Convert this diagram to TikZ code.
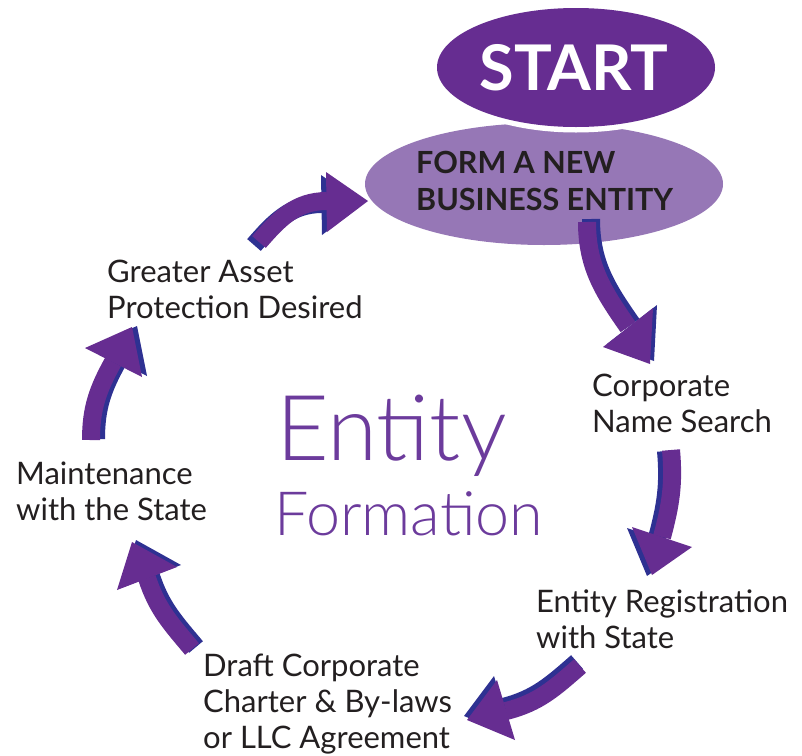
\documentclass[tikz,border=0pt]{standalone}
\usepackage{fontspec}
\setmainfont{Lato}
\newfontfamily\latolight{Lato Light}
\usetikzlibrary{calc}
\definecolor{dpurple}{HTML}{662D91}
\definecolor{lpurple}{HTML}{9677B6}
\definecolor{sblue}{HTML}{2E3192}
\definecolor{txt}{HTML}{231F20}
\definecolor{bigtxt}{HTML}{6C3B9C}
% #1 tail, #2 out, #3 in, #4 join, #5 head corner, #6 tip, #7 head corner, #8 shadow shift
\newcommand\fatarrow[8]{%
  \fill[sblue] ([shift={#8}]#5) -- ([shift={#8}]#6) -- ([shift={#8}]#7) -- cycle;
  \draw[sblue,line width=18pt] ([shift={#8}]#1) to[out=#2,in=#3] ([shift={#8}]#4);
  \draw[dpurple,line width=18pt] (#1) to[out=#2,in=#3] (#4);
  \fill[dpurple] (#5) -- (#6) -- (#7) -- cycle;
}
\tikzset{
  lbl/.style={anchor=base west,inner sep=0pt,align=left,text=txt,font=\fontsize{31}{36}\selectfont},
}
\begin{document}
\begin{tikzpicture}[x=1pt,y=-1pt]
\useasboundingbox (0,0) rectangle (802,755);
% ellipses
\fill[lpurple] (544,184) ellipse [x radius=179,y radius=61];
\fill[white] (576,67.5) ellipse [x radius=144,y radius=65];
\fill[dpurple] (576,67.5) ellipse [x radius=139,y radius=59.5];
\node (start) [anchor=base,inner sep=0pt,text=white,font=\fontsize{63}{70}\selectfont\bfseries] at (574,90) {START};
\node (form) [lbl,font=\fontsize{30.5}{37}\selectfont\bfseries] at (416,210) {FORM A NEW\\BUSINESS ENTITY};
% labels (base = last line)
\node (greater) [lbl] at (107,318) {Greater Asset\\Protection Desired};
\node (corp) [lbl] at (592,432) {Corporate\\Name Search};
\node (maint) [lbl] at (16,520) {Maintenance\\with the State};
\node (reg) [lbl] at (536,648) {Entity Registration\\with State};
\node (draft) [lbl] at (203,748) {Draft Corporate\\Charter \& By-laws\\or LLC Agreement};
% title
\node (entity) [anchor=base west,inner sep=0pt,text=bigtxt,font=\fontsize{91}{100}\latolight] at (276,460) {Entity};
\node (formation) [anchor=base west,inner sep=0pt,text=bigtxt,font=\fontsize{61}{70}\latolight] at (274,535) {Formation};
% arrow coordinates
\coordinate (a1t) at (259,242); \coordinate (a1j) at (327,201);
\coordinate (a1h) at (326,172); \coordinate (a1p) at (368,201); \coordinate (a1k) at (327,232);
\coordinate (a2t) at (587,222); \coordinate (a2j) at (628,327);
\coordinate (a2h) at (603,347); \coordinate (a2p) at (650,364); \coordinate (a2k) at (653,308);
\coordinate (a3t) at (671,450); \coordinate (a3j) at (662,537);
\coordinate (a3h) at (632,527); \coordinate (a3p) at (652,575); \coordinate (a3k) at (692,547);
\coordinate (a4t) at (580,666); \coordinate (a4j) at (506,711);
\coordinate (a4h) at (497,680); \coordinate (a4p) at (467,720); \coordinate (a4k) at (515,740);
\coordinate (a5t) at (192,649); \coordinate (a5j) at (147,578);
\coordinate (a5h) at (117,590); \coordinate (a5p) at (132,542); \coordinate (a5k) at (177,567);
\coordinate (a6t) at (91,440); \coordinate (a6j) at (113,362);
\coordinate (a6h) at (85,348); \coordinate (a6p) at (132,327); \coordinate (a6k) at (142,377);
\fatarrow{a1t}{49}{180}{a1j}{a1h}{a1p}{a1k}{(-5,3)}
\fatarrow{a2t}{-90}{125}{a2j}{a2h}{a2p}{a2k}{(4,-3)}
\fatarrow{a3t}{-85}{75}{a3j}{a3h}{a3p}{a3k}{(-5,1)}
\fatarrow{a4t}{-139}{14}{a4j}{a4h}{a4p}{a4k}{(-3,-4)}
\fatarrow{a5t}{130}{-72}{a5j}{a5h}{a5p}{a5k}{(4,-2)}
\fatarrow{a6t}{90}{-119}{a6j}{a6h}{a6p}{a6k}{(5,-1)}
\end{tikzpicture}
\end{document}
